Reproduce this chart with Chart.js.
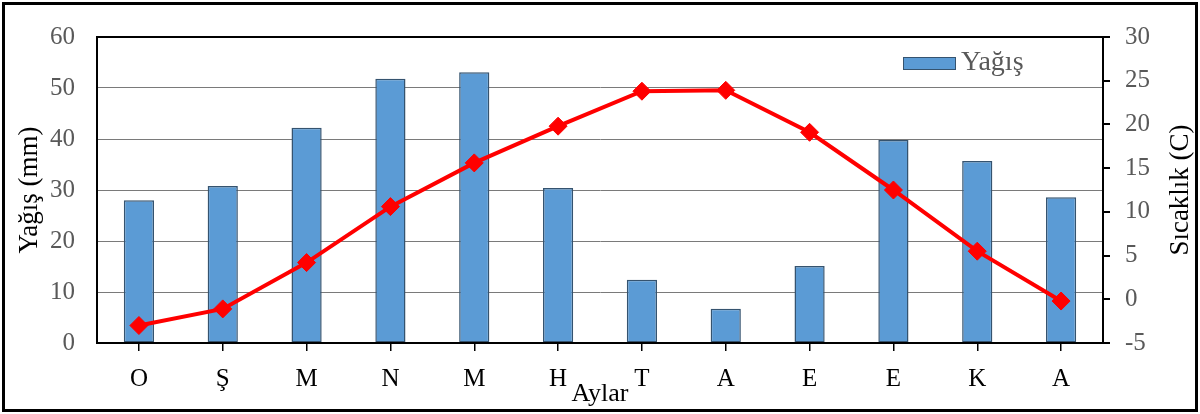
<!DOCTYPE html>
<html>
<head>
<meta charset="utf-8">
<script src="https://cdn.jsdelivr.net/npm/chart.js@4.4.1/dist/chart.umd.min.js"></script>
<style>
  html, body { margin: 0; padding: 0; background: #fff; }
  #wrap { width: 1200px; height: 414px; position: relative; }
</style>
</head>
<body>
<div id="wrap"><canvas id="chart"></canvas></div>
<script>
// aylar (x ekseni)
const months = ['O', 'Ş', 'M', 'N', 'M', 'H', 'T', 'A', 'E', 'E', 'K', 'A'];
// yağış (mm) - sol eksen
const yagis = [28.0, 30.8, 42.2, 51.8, 53.1, 30.4, 12.4, 6.7, 15.1, 39.8, 35.7, 28.6];
// sıcaklık (C) - sağ eksen
const sicaklik = [-3.0, -1.1, 4.2, 10.6, 15.6, 19.8, 23.8, 23.9, 19.1, 12.5, 5.5, -0.2];

const FONT = "'Liberation Serif', 'Times New Roman', serif";
const BAR_FILL = '#5b9bd5';
const BAR_EDGE = '#35536f';

// çerçeve, lejant ve sağ eksen başlığı
const extras = {
    id: 'extras',
    afterDraw(chart) {
        const { ctx, chartArea: a } = chart;
        ctx.save();
        // grafik alanı çerçevesi
        ctx.strokeStyle = '#000';
        ctx.lineWidth = 2;
        ctx.strokeRect(a.left, a.top, a.right - a.left, a.bottom - a.top);

        // lejant (sadece Yağış)
        const lx = a.right - 200, ly = a.top + 20;
        ctx.fillStyle = BAR_FILL;
        ctx.fillRect(lx, ly, 52, 12);
        ctx.strokeStyle = BAR_EDGE;
        ctx.lineWidth = 1;
        ctx.strokeRect(lx + 0.5, ly + 0.5, 52, 12);
        ctx.fillStyle = '#595959';
        ctx.font = '28px ' + FONT;
        ctx.textBaseline = 'middle';
        ctx.textAlign = 'left';
        ctx.fillText('Yağış', lx + 58, ly + 6);

        // sağ eksen başlığı, aşağıdan yukarı
        ctx.translate(1181, (a.top + a.bottom) / 2);
        ctx.rotate(-Math.PI / 2);
        ctx.fillStyle = '#000';
        ctx.textAlign = 'center';
        ctx.font = '27px ' + FONT;
        ctx.fillText('Sıcaklık (C)', 0, 0);
        ctx.restore();

        // dış çerçeve
        ctx.save();
        ctx.strokeStyle = '#000';
        ctx.lineWidth = 3;
        ctx.strokeRect(3.5, 3.5, chart.width - 7, chart.height - 7);
        ctx.restore();
    }
};

new Chart(document.getElementById('chart'), {
    type: 'bar',
    data: {
        labels: months,
        datasets: [
            {
                label: 'Sıcaklık',
                type: 'line',
                data: sicaklik,
                yAxisID: 'y1',
                borderColor: '#ff0000',
                borderWidth: 4,
                pointStyle: 'rectRot',
                pointRadius: 9,
                pointBackgroundColor: '#ff0000',
                pointBorderColor: '#ff0000',
                pointBorderWidth: 1,
                tension: 0,
                order: 0
            },
            {
                label: 'Yağış',
                data: yagis,
                yAxisID: 'y',
                backgroundColor: BAR_FILL,
                borderColor: BAR_EDGE,
                borderWidth: 1.5,
                borderSkipped: false,
                barPercentage: 0.36,
                categoryPercentage: 1.0,
                order: 1
            }
        ]
    },
    options: {
        responsive: true,
        maintainAspectRatio: false,
        animation: false,
        layout: { padding: { top: 37, left: 0, right: 0, bottom: 0 } },
        plugins: {
            legend: { display: false },
            tooltip: { enabled: false }
        },
        scales: {
            x: {
                grid: { drawOnChartArea: false, offset: false, tickLength: 8, color: '#000', lineWidth: 1.5 },
                border: { color: '#000', width: 2 },
                ticks: { color: '#000', font: { family: FONT, size: 25 }, padding: 13 },
                title: {
                    display: true, text: 'Aylar', color: '#000',
                    font: { family: FONT, size: 26 },
                    padding: { top: 0, bottom: 4 }
                },
                afterFit: s => { s.height = 71; }
            },
            y: {
                position: 'left',
                min: 0, max: 60,
                ticks: { stepSize: 10, color: '#595959', font: { family: FONT, size: 25 }, padding: 22 },
                grid: { color: '#7a7a7a', lineWidth: 1, drawTicks: false },
                border: { color: '#000', width: 2 },
                title: {
                    display: true, text: 'Yağış (mm)', color: '#000',
                    font: { family: FONT, size: 27 },
                    padding: { top: 14, bottom: 0 }
                },
                afterFit: s => { s.width = 97; }
            },
            y1: {
                position: 'right',
                min: -5, max: 30,
                ticks: { stepSize: 5, color: '#595959', font: { family: FONT, size: 25 }, padding: 15 },
                grid: { drawOnChartArea: false, tickLength: 7, color: '#000', lineWidth: 2 },
                border: { color: '#000', width: 2 },
                afterFit: s => { s.width = 97; }
            }
        }
    },
    plugins: [extras]
});
</script>
</body>
</html>
